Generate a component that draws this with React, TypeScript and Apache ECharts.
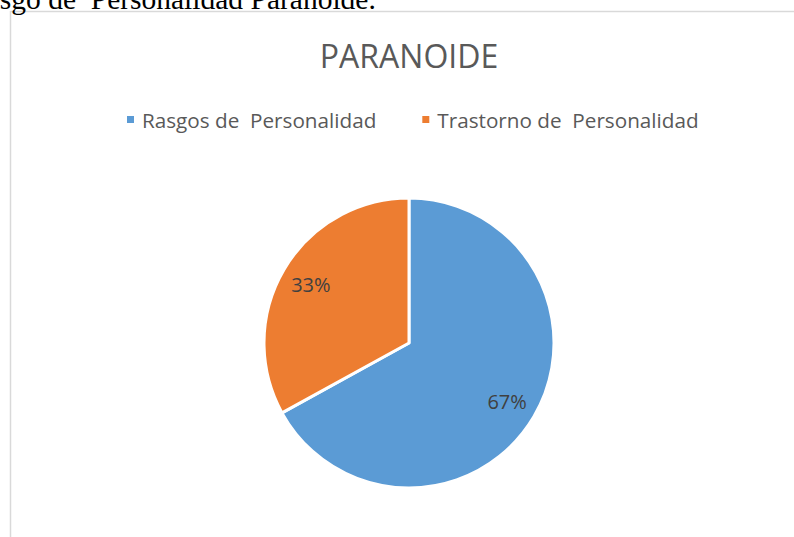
import React, { useEffect, useRef } from "react";
import * as echarts from "echarts";

const categories = ["Rasgos de  Personalidad", "Trastorno de  Personalidad"];
const values = [67, 33];
const colors = ["#5B9BD5", "#ED7D31"];
const titleText = "PARANOIDE";
const headerText = "Rasgo de  Personalidad Paranoide.";

export default function App() {
  const ref = useRef<HTMLDivElement>(null);
  useEffect(() => {
    if (!ref.current) return;
    const chart = echarts.init(ref.current, null, { renderer: "svg" });
    const data = categories.map((name, i) => ({ name, value: values[i], itemStyle: { color: colors[i] } }));
    chart.setOption({
      animation: false,
      backgroundColor: "#ffffff",
      title: {
        text: titleText,
        left: 404,
        textAlign: "center",
        top: 34,
        textStyle: { fontFamily: "Open Sans", fontSize: 32, fontWeight: "normal", color: "#595959" },
      },
      legend: {
        data: categories,
        top: 104,
        left: 120,
        icon: "rect",
        itemWidth: 9,
        itemHeight: 9,
        itemGap: 44,
        textStyle: { fontFamily: "Open Sans", fontSize: 20.7, color: "#595959", padding: [0, 0, 0, 2] },
      },
      graphic: [
        {
          type: "rect",
          shape: { x: 10.5, y: 11.5, width: 820, height: 600 },
          style: { fill: "none", stroke: "#d9d9d9", lineWidth: 1.5 },
          silent: true,
        },
        {
          type: "text",
          x: -33,
          y: 14,
          style: { text: headerText, fontFamily: "Liberation Serif", fontSize: 29.5, fill: "#000000", textVerticalAlign: "bottom" },
          silent: true,
        },
      ],
      series: [
        {
          type: "pie",
          center: [409, 343],
          radius: [0, 145],
          startAngle: 90,
          clockwise: true,
          data,
          label: { show: false },
          labelLine: { show: false },
          itemStyle: { borderColor: "#ffffff", borderWidth: 3 },
          emphasis: { disabled: true },
        },
        {
          type: "pie",
          center: [409, 343],
          radius: [77, 145],
          startAngle: 90,
          clockwise: true,
          silent: true,
          data: categories.map((name, i) => ({ name, value: values[i] })),
          itemStyle: { color: "rgba(0,0,0,0)" },
          label: {
            show: true,
            position: "inside",
            formatter: "{c}%",
            fontFamily: "Open Sans",
            fontSize: 20,
            color: "#404040",
          },
          labelLine: { show: false },
          emphasis: { disabled: true },
        },
      ],
    });
    return () => chart.dispose();
  }, []);
  return <div ref={ref} style={{ position: "fixed", left: 0, top: 0, width: 794, height: 537 }} />;
}
